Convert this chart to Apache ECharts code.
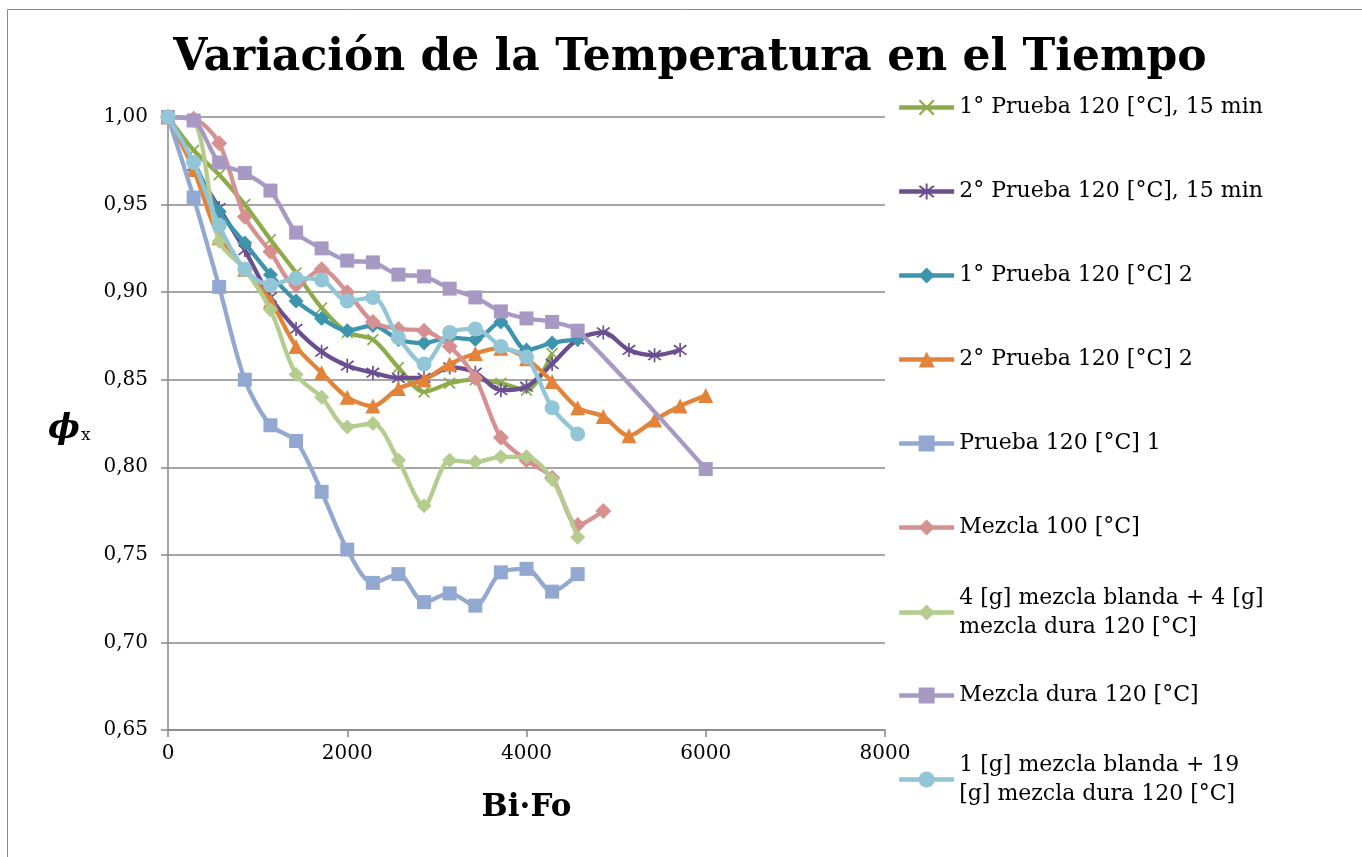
<!DOCTYPE html>
<html><head><meta charset="utf-8">
<script src="https://cdn.jsdelivr.net/npm/echarts@6/dist/echarts.min.js"></script>
<style>html,body{margin:0;padding:0;background:#fff}#c{width:1362px;height:857px}</style>
</head><body><div id="c"></div>
<script>
// Bi·Fo values (x)
const bifo = [0, 286, 571, 857, 1143, 1429, 1714, 2000, 2286, 2571, 2857, 3143, 3429, 3714, 4000, 4286, 4571, 4857, 5143, 5429, 5714, 6000];

const seriesNames = [
  '1° Prueba 120 [°C], 15 min',
  '2° Prueba 120 [°C], 15 min',
  '1° Prueba 120 [°C] 2',
  '2° Prueba 120 [°C] 2',
  'Prueba 120 [°C] 1',
  'Mezcla 100 [°C]',
  '4 [g] mezcla blanda + 4 [g]\nmezcla dura 120 [°C]',
  'Mezcla dura 120 [°C]',
  '1 [g] mezcla blanda + 19\n[g] mezcla dura 120 [°C]'
];

const prueba1_15 = [1.000, 0.981, 0.967, 0.950, 0.930, 0.911, 0.891, 0.877, 0.873, 0.857, 0.843, 0.848, 0.850, 0.848, 0.844, 0.865];
const prueba2_15 = [1.000, 0.972, 0.948, 0.924, 0.897, 0.879, 0.866, 0.858, 0.854, 0.851, 0.851, 0.857, 0.854, 0.844, 0.846, 0.859, 0.873, 0.877, 0.867, 0.864, 0.867];
const prueba1_2 = [1.000, 0.974, 0.946, 0.928, 0.910, 0.895, 0.885, 0.878, 0.881, 0.873, 0.871, 0.874, 0.873, 0.883, 0.867, 0.871, 0.873];
const prueba2_2 = [1.000, 0.970, 0.931, 0.913, 0.895, 0.869, 0.854, 0.840, 0.835, 0.845, 0.850, 0.859, 0.865, 0.868, 0.862, 0.849, 0.834, 0.829, 0.818, 0.827, 0.835, 0.841];
const prueba_1 = [1.000, 0.954, 0.903, 0.850, 0.824, 0.815, 0.786, 0.753, 0.734, 0.739, 0.723, 0.728, 0.721, 0.740, 0.742, 0.729, 0.739];
const mezcla100 = [1.000, 0.999, 0.985, 0.943, 0.923, 0.904, 0.913, 0.900, 0.883, 0.879, 0.878, 0.869, 0.851, 0.817, 0.804, 0.794, 0.767, 0.775];
const blanda4dura4 = [1.000, 0.998, 0.929, 0.913, 0.890, 0.853, 0.840, 0.823, 0.825, 0.804, 0.778, 0.804, 0.803, 0.806, 0.806, 0.793, 0.760];
const mezclaDura = [1.000, 0.998, 0.974, 0.968, 0.958, 0.934, 0.925, 0.918, 0.917, 0.910, 0.909, 0.902, 0.897, 0.889, 0.885, 0.883, 0.878, null, null, null, null, 0.799];
const blanda1dura19 = [1.000, 0.974, 0.938, 0.913, 0.904, 0.908, 0.907, 0.895, 0.897, 0.874, 0.859, 0.877, 0.879, 0.869, 0.863, 0.834, 0.819];

const seriesValues = [prueba1_15, prueba2_15, prueba1_2, prueba2_2, prueba_1, mezcla100, blanda4dura4, mezclaDura, blanda1dura19];

const xTicks = {min: 0, max: 8000, interval: 2000};
const yTicks = {min: 0.65, max: 1.0, interval: 0.05};

// ---- styles ----
const FONT = 'DejaVu Serif';
const X_SYM = 'path://M1,0L5,4L9,0L10,1L6,5L10,9L9,10L5,6L1,10L0,9L4,5L0,1Z';
const STAR_SYM = 'path://M1,0L5,4L9,0L10,1L6,5L10,9L9,10L5,6L1,10L0,9L4,5L0,1Z M4.4,-1.5L5.6,-1.5L5.6,11.5L4.4,11.5Z';
const styles = [
  {color: '#8dab4b', symbol: X_SYM, size: 12},
  {color: '#6a4e90', symbol: STAR_SYM, size: 14},
  {color: '#3d95ad', symbol: 'diamond', size: 15},
  {color: '#e3833a', symbol: 'triangle', size: 15},
  {color: '#93a8d1', symbol: 'rect', size: 14},
  {color: '#d69090', symbol: 'diamond', size: 16},
  {color: '#b4cc8d', symbol: 'diamond', size: 15},
  {color: '#a899c4', symbol: 'rect', size: 14},
  {color: '#92c5d6', symbol: 'circle', size: 15}
];
const legendCenters = [108, 192, 276, 360, 444, 528, 612, 696, 779];

const series = seriesNames.map((name, i) => ({
  name: name,
  type: 'line',
  smooth: 0.3,
  connectNulls: true,
  data: seriesValues[i].map((v, j) => [bifo[j], v]),
  symbol: styles[i].symbol,
  symbolSize: styles[i].size,
  showAllSymbol: true,
  lineStyle: {color: styles[i].color, width: 4.3},
  itemStyle: {color: styles[i].color},
  emphasis: {disabled: true},
  animation: false,
  z: 2 + i
}));

const legends = seriesNames.map((name, i) => {
  const multi = name.indexOf('\n') >= 0;
  return {
    data: [name],
    left: 897,
    top: multi ? legendCenters[i] - 43 : legendCenters[i] - 15,
    orient: 'vertical',
    padding: 0,
    itemWidth: 55,
    itemHeight: 20,
    selectedMode: false,
    lineStyle: {width: 4.3},
    textStyle: {fontFamily: FONT, fontSize: 22, color: '#000', lineHeight: 29, padding: multi ? [29, 0, 0, 0] : 0}
  };
});

const chart = echarts.init(document.getElementById('c'), null, {renderer: 'canvas'});
chart.setOption({
  backgroundColor: '#fff',
  animation: false,
  title: {
    text: 'Variación de la Temperatura en el Tiempo',
    left: 685, top: 32, textAlign: 'center',
    textStyle: {fontFamily: FONT, fontWeight: 'bold', fontSize: 44, color: '#000'}
  },
  legend: legends,
  grid: {left: 168, right: 477, top: 117, bottom: 127},
  xAxis: {
    type: 'value', min: xTicks.min, max: xTicks.max, interval: xTicks.interval,
    axisLine: {lineStyle: {color: '#878787', width: 1.5}},
    axisTick: {show: true, length: 7, lineStyle: {color: '#878787', width: 1.5}},
    splitLine: {show: false},
    axisLabel: {fontFamily: FONT, fontSize: 20, color: '#000', margin: 14, formatter: v => String(v)},
    name: 'Bi·Fo', nameLocation: 'middle', nameGap: 62,
    nameTextStyle: {fontFamily: FONT, fontWeight: 'bold', fontSize: 31, color: '#000'}
  },
  yAxis: {
    type: 'value', min: yTicks.min, max: yTicks.max, interval: yTicks.interval,
    axisLine: {show: true, lineStyle: {color: '#878787', width: 1.5}},
    axisTick: {show: true, length: 7, lineStyle: {color: '#878787', width: 1.5}},
    splitLine: {show: true, lineStyle: {color: '#878787', width: 1.5}},
    axisLabel: {fontFamily: FONT, fontSize: 20, color: '#000', margin: 20,
      formatter: v => v.toFixed(2).replace('.', ',')}
  },
  graphic: [
    {type: 'rect', shape: {x: 7.5, y: 9.5, width: 1400, height: 900}, style: {fill: 'none', stroke: '#8a8a8a', lineWidth: 1}, silent: true, z: -10},
    {type: 'text', left: 48, top: 412, style: {
      text: '{p|ϕ}{s|x}',
      rich: {
        p: {fontFamily: FONT, fontWeight: 'bold', fontStyle: 'italic', fontSize: 34, color: '#000'},
        s: {fontFamily: FONT, fontSize: 17, color: '#000', padding: [14, 0, 0, 1]}
      }
    }}
  ],
  series: series
});
</script>
</body></html>
